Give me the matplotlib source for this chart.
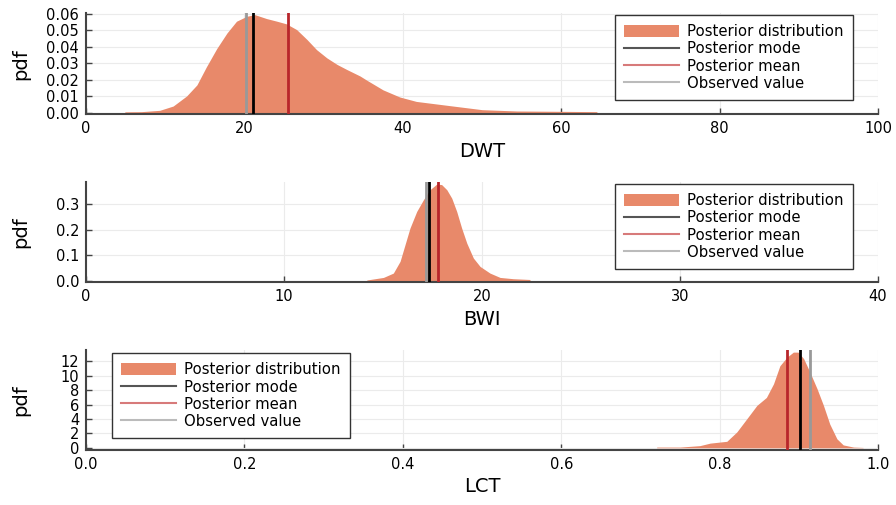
import matplotlib
matplotlib.use("Agg")
import matplotlib.pyplot as plt
from matplotlib.patches import Patch
from matplotlib.lines import Line2D

# --- data ---
dwt_x = [4.9, 7.0, 9.3, 11.0, 12.7, 14.0, 15.2, 16.5, 17.8, 19.0, 20.3, 21.3, 22.8, 24.1,
         25.3, 26.6, 27.9, 29.1, 30.4, 31.7, 32.9, 34.6, 35.4, 37.5, 39.6, 41.7, 46.0,
         50.0, 54.4, 59.8, 64.5]
dwt_pdf = [0.0007, 0.0008, 0.0016, 0.0042, 0.0103, 0.017, 0.028, 0.039, 0.0485, 0.0556,
           0.0586, 0.0596, 0.0572, 0.0556, 0.054, 0.0505, 0.0445, 0.0384, 0.0334, 0.0294,
           0.0264, 0.0224, 0.020, 0.014, 0.0097, 0.007, 0.0044, 0.002, 0.0012, 0.001, 0.0008]
dwt_mode, dwt_mean, dwt_obs = 21.1, 25.5, 20.2

bwi_x = [14.18, 15.02, 15.52, 15.86, 16.11, 16.36, 16.70, 17.04, 17.37, 17.71, 17.96, 18.22,
         18.47, 18.72, 18.97, 19.23, 19.56, 19.90, 20.40, 20.91, 21.58, 22.42]
bwi_pdf = [0.003, 0.013, 0.03, 0.076, 0.141, 0.206, 0.271, 0.317, 0.356, 0.378, 0.376, 0.356,
           0.323, 0.271, 0.206, 0.147, 0.089, 0.056, 0.030, 0.013, 0.008, 0.005]
bwi_mode, bwi_mean, bwi_obs = 17.31, 17.76, 17.17

lct_x = [0.7205, 0.750, 0.775, 0.788, 0.809, 0.8216, 0.834, 0.847, 0.859, 0.868, 0.876, 0.885,
         0.893, 0.899, 0.906, 0.914, 0.923, 0.931, 0.939, 0.948, 0.956, 0.969, 0.981]
lct_pdf = [0.1, 0.1, 0.3, 0.65, 0.9, 2.2, 4.0, 5.9, 7.0, 8.9, 11.4, 12.6, 13.3, 13.3, 12.4,
           10.5, 8.2, 5.9, 3.3, 1.25, 0.4, 0.1, 0.05]
lct_mode, lct_mean, lct_obs = 0.901, 0.885, 0.914

fill_col = "#E8896A"
mean_col = "#B8262B"
obs_col = "#999999"

plt.rcParams["font.family"] = "DejaVu Sans"

fig = plt.figure(figsize=(8.96, 5.05), dpi=100)

panels = [
    dict(x=dwt_x, y=dwt_pdf, mode=dwt_mode, mean=dwt_mean, obs=dwt_obs, label="DWT",
         rect=[0.096, 0.774, 0.884, 0.200], xlim=(0, 100), xticks=[0, 20, 40, 60, 80, 100],
         ylim=(-0.0007, 0.0605), yticks=[0.0, 0.01, 0.02, 0.03, 0.04, 0.05, 0.06], yfmt="%.2f",
         loc="upper right", anchor=(0.968, 0.98)),
    dict(x=bwi_x, y=bwi_pdf, mode=bwi_mode, mean=bwi_mean, obs=bwi_obs, label="BWI",
         rect=[0.096, 0.441, 0.884, 0.198], xlim=(0, 40), xticks=[0, 10, 20, 30, 40],
         ylim=(-0.006, 0.385), yticks=[0.0, 0.1, 0.2, 0.3], yfmt="%.1f",
         loc="upper right", anchor=(0.968, 0.98)),
    dict(x=lct_x, y=lct_pdf, mode=lct_mode, mean=lct_mean, obs=lct_obs, label="LCT",
         rect=[0.096, 0.109, 0.884, 0.198], xlim=(0, 1.0), xticks=[0.0, 0.2, 0.4, 0.6, 0.8, 1.0],
         ylim=(-0.3, 13.6), yticks=[0, 2, 4, 6, 8, 10, 12], yfmt="%d",
         loc="upper left", anchor=(0.033, 0.965)),
]

for p in panels:
    ax = fig.add_axes(p["rect"])
    ax.fill_between(p["x"], 0, p["y"], color=fill_col, lw=0, zorder=2)
    ax.axvline(p["mode"], color="black", lw=2, zorder=3)
    ax.axvline(p["mean"], color=mean_col, lw=2, zorder=3)
    ax.axvline(p["obs"], color=obs_col, lw=2, zorder=3)

    ax.set_xlim(*p["xlim"])
    ax.set_ylim(*p["ylim"])
    ax.set_xticks(p["xticks"])
    ax.set_yticks(p["yticks"])
    ax.set_xticklabels([("%g" % v) if p["label"] != "LCT" else "%.1f" % v for v in p["xticks"]])
    ax.set_yticklabels([p["yfmt"] % v for v in p["yticks"]])
    ax.grid(True, color="#EBEBEB", lw=0.8, zorder=0)
    ax.set_axisbelow(True)
    for s in ["top", "right"]:
        ax.spines[s].set_visible(False)
    for s in ["left", "bottom"]:
        ax.spines[s].set_color("#444444")
        ax.spines[s].set_linewidth(1.5)
    ax.tick_params(direction="in", length=4, width=1, colors="#444444", labelcolor="black",
                   labelsize=10.5, pad=5)
    ax.set_xlabel(p["label"], fontsize=14, labelpad=4)
    ax.set_ylabel("pdf", fontsize=14)
    ax.yaxis.set_label_coords(-0.07, 0.5)

    handles = [
        Patch(facecolor=fill_col, edgecolor="none"),
        Line2D([], [], color="#555555", lw=1.5),
        Line2D([], [], color="#D77A7A", lw=1.5),
        Line2D([], [], color="#BBBBBB", lw=1.5),
    ]
    names = ["Posterior distribution", "Posterior mode", "Posterior mean", "Observed value"]
    leg = ax.legend(handles, names, loc=p["loc"], bbox_to_anchor=p["anchor"], fontsize=10.7,
                    frameon=True, fancybox=False, framealpha=1, edgecolor="#333333",
                    handlelength=3.7, handleheight=0.9, handletextpad=0.55,
                    labelspacing=0.15, borderpad=0.6, borderaxespad=0)
    leg.get_frame().set_linewidth(1.0)

fig.savefig("out.png", dpi=100)
